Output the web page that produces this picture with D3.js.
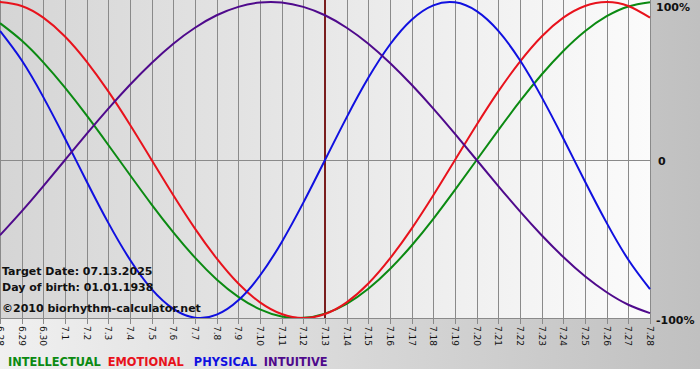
<!DOCTYPE html>
<html>
<head>
<meta charset="utf-8">
<script src="https://cdn.jsdelivr.net/npm/d3@7"></script>
<style>
  body { margin: 0; background: #fff; }
  svg { display: block; font-family: "DejaVu Sans", Verdana, sans-serif; }
</style>
</head>
<body>
<svg id="chart" width="700" height="380"></svg>
<script>
// day labels, 6.28 .. 7.28
var days = ["6.28", "6.29", "6.30", "7.1", "7.2", "7.3", "7.4", "7.5", "7.6", "7.7", "7.8", "7.9",
  "7.10", "7.11", "7.12", "7.13", "7.14", "7.15", "7.16", "7.17", "7.18", "7.19", "7.20",
  "7.21", "7.22", "7.23", "7.24", "7.25", "7.26", "7.27", "7.28"]

var targetDay = "7.13"

// values, one per day (-1 .. 1)
var physical = [0.817, 0.631, 0.398, 0.136, -0.136, -0.398, -0.631, -0.817, -0.942, -0.998,
  -0.979, -0.888, -0.731, -0.520, -0.270, 0.000, 0.270, 0.520, 0.731, 0.888, 0.979, 0.998,
  0.942, 0.817, 0.631, 0.398, 0.136, -0.136, -0.398, -0.631, -0.817]

var emotional = [1.000, 0.975, 0.901, 0.782, 0.623, 0.434, 0.223, 0.000, -0.223, -0.434,
  -0.623, -0.782, -0.901, -0.975, -1.000, -0.975, -0.901, -0.782, -0.623, -0.434, -0.223,
  0.000, 0.223, 0.434, 0.623, 0.782, 0.901, 0.975, 1.000, 0.975, 0.901]

var intellectual = [0.866, 0.756, 0.618, 0.458, 0.282, 0.095, -0.095, -0.282, -0.458, -0.618,
  -0.756, -0.866, -0.945, -0.990, -0.999, -0.972, -0.910, -0.815, -0.690, -0.541, -0.372,
  -0.189, 0.000, 0.189, 0.372, 0.541, 0.690, 0.815, 0.910, 0.972, 0.999]

var intuitive = [-0.476, -0.325, -0.165, 0.000, 0.165, 0.325, 0.476, 0.614, 0.736, 0.837,
  0.916, 0.969, 0.997, 0.997, 0.969, 0.916, 0.837, 0.736, 0.614, 0.476, 0.325, 0.165, 0.000,
  -0.165, -0.325, -0.476, -0.614, -0.736, -0.837, -0.916, -0.969]

var series = [
  { name: "INTELLECTUAL", color: "#0b8a12", values: intellectual },
  { name: "EMOTIONAL", color: "#e8121c", values: emotional },
  { name: "PHYSICAL", color: "#1010e0", values: physical },
  { name: "INTUITIVE", color: "#4f0a8c", values: intuitive }
]

var yTicks = [1, 0, -1]
var yTickLabels = ["100%", "0", "-100%"]

var infoLines = ["Target Date: 07.13.2025", "Day of birth: 01.01.1938", "\u00a92010 biorhythm-calculator.net"]

var svg = d3.select("#chart")
var plot = { left: 0, right: 651, top: 0, bottom: 318 }

var defs = svg.append("defs")

var bgGrad = defs.append("linearGradient").attr("id", "bgGrad")
bgGrad.append("stop").attr("offset", "0%").attr("stop-color", "#f0f0f0")
bgGrad.append("stop").attr("offset", "100%").attr("stop-color", "#c0c0c0")

var plotGrad = defs.append("linearGradient").attr("id", "plotGrad")
plotGrad.append("stop").attr("offset", "0%").attr("stop-color", "#d5d5d5")
plotGrad.append("stop").attr("offset", "100%").attr("stop-color", "#fbfbfb")

defs.append("clipPath").attr("id", "plotClip")
  .append("rect")
  .attr("x", plot.left).attr("y", plot.top)
  .attr("width", plot.right - plot.left).attr("height", plot.bottom - plot.top)

// backgrounds
svg.append("rect").attr("width", 700).attr("height", 369).attr("fill", "url(#bgGrad)")
svg.append("rect")
  .attr("x", plot.left).attr("y", plot.top)
  .attr("width", plot.right - plot.left).attr("height", plot.bottom - plot.top)
  .attr("fill", "url(#plotGrad)")

var x = d3.scalePoint().domain(days).range([plot.left, plot.right - 1])
var y = d3.scaleLinear().domain([-1, 1]).range([plot.bottom, plot.top + 2])

// vertical grid + ticks
svg.append("g").selectAll("line")
  .data(days)
  .enter()
  .append("line")
  .attr("x1", function (d) { return Math.round(x(d)) + 0.5 })
  .attr("x2", function (d) { return Math.round(x(d)) + 0.5 })
  .attr("y1", plot.top)
  .attr("y2", plot.bottom + 6)
  .attr("stroke", "#8a8a8a")
  .attr("stroke-width", 1)

// zero line and bottom border
svg.append("line")
  .attr("x1", plot.left).attr("x2", plot.right)
  .attr("y1", Math.round(y(0)) + 0.5).attr("y2", Math.round(y(0)) + 0.5)
  .attr("stroke", "#8a8a8a")
svg.append("line")
  .attr("x1", plot.left).attr("x2", plot.right)
  .attr("y1", plot.bottom + 0.5).attr("y2", plot.bottom + 0.5)
  .attr("stroke", "#8a8a8a")

// day labels, rotated
svg.append("g").selectAll("text")
  .data(days)
  .enter()
  .append("text")
  .attr("transform", function (d) { return "translate(" + (Math.round(x(d)) - 3) + "," + (plot.bottom + 8) + ") rotate(90)" })
  .attr("font-size", 9)
  .attr("fill", "#111")
  .text(function (d) { return d })

// target date marker
svg.append("line")
  .attr("x1", x(targetDay)).attr("x2", x(targetDay))
  .attr("y1", plot.top).attr("y2", plot.bottom)
  .attr("stroke", "#7a1e1e")
  .attr("stroke-width", 2)

// curves
var line = d3.line()
  .x(function (d, i) { return x(days[i]) })
  .y(function (d) { return y(d) })
  .curve(d3.curveNatural)

svg.append("g").attr("clip-path", "url(#plotClip)")
  .selectAll("path")
  .data(series)
  .enter()
  .append("path")
  .attr("d", function (s) { return line(s.values) })
  .attr("fill", "none")
  .attr("stroke", function (s) { return s.color })
  .attr("stroke-width", 2)

// right axis labels
svg.append("g").selectAll("text")
  .data(yTicks)
  .enter()
  .append("text")
  .attr("x", function (d, i) { return i == 1 ? plot.right + 7 : plot.right + 5 })
  .attr("y", function (d, i) { return i == 0 ? y(d) + 9 : i == 2 ? y(d) + 6 : y(d) + 5 })
  .attr("font-size", 11)
  .attr("font-weight", "bold")
  .attr("fill", "#111")
  .text(function (d, i) { return yTickLabels[i] })

// info text
svg.append("g").selectAll("text")
  .data(infoLines)
  .enter()
  .append("text")
  .attr("x", 2)
  .attr("y", function (d, i) { return [275, 291, 312][i] })
  .attr("font-size", 11)
  .attr("font-weight", "bold")
  .attr("fill", "#111")
  .text(function (d) { return d })

// legend
var legendGaps = [0, 7, 10, 7]
var legend = svg.append("text")
  .attr("x", 8)
  .attr("y", 366)
  .attr("font-size", 11.4)
  .attr("font-weight", "bold")
series.forEach(function (s, i) {
  legend.append("tspan")
    .attr("dx", legendGaps[i])
    .attr("fill", s.color)
    .text(s.name)
})
</script>
</body>
</html>
